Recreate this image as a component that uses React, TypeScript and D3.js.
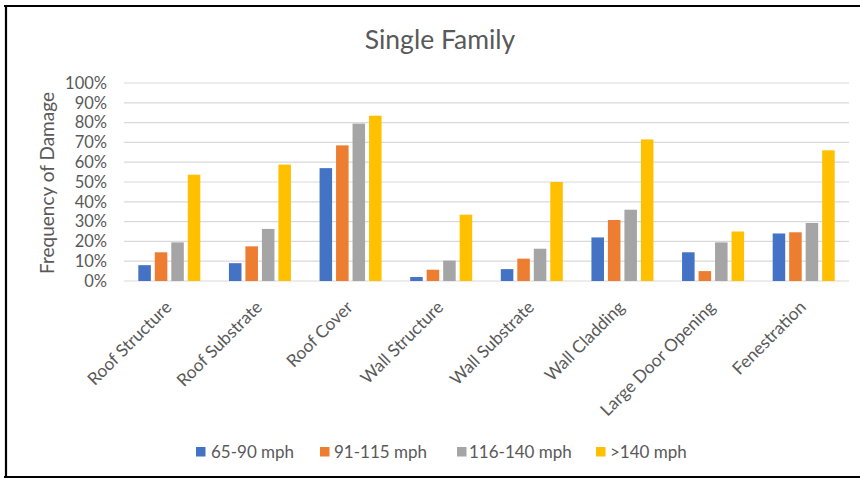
import React from "react";
import * as d3 from "d3";

const categories = [
  "Roof Structure",
  "Roof Substrate",
  "Roof Cover",
  "Wall Structure",
  "Wall Substrate",
  "Wall Cladding",
  "Large Door Opening",
  "Fenestration",
];
const seriesNames = ["65-90 mph", "91-115 mph", "116-140 mph", ">140 mph"];
const seriesColors = ["#4472C4", "#ED7D31", "#A5A5A5", "#FFC000"];
const s65_90 = [0.08, 0.09, 0.57, 0.02, 0.06, 0.22, 0.145, 0.24];
const s91_115 = [0.145, 0.175, 0.685, 0.057, 0.113, 0.308, 0.05, 0.246];
const s116_140 = [0.195, 0.263, 0.795, 0.103, 0.163, 0.36, 0.195, 0.293];
const sOver140 = [0.537, 0.588, 0.835, 0.335, 0.5, 0.715, 0.25, 0.66];
const yTicks = [0, 0.1, 0.2, 0.3, 0.4, 0.5, 0.6, 0.7, 0.8, 0.9, 1.0];

const seriesValues = [s65_90, s91_115, s116_140, sOver140];

const W = 860;
const H = 478;
const FONT = "Lato, 'Open Sans', sans-serif";
const TXT = "#595959";

export default function App() {
  const plotLeft = 124;
  const plotRight = 849;
  const y = d3.scaleLinear().domain([0, 1]).range([281, 83]);
  const x0 = d3.scaleBand<string>().domain(categories).range([plotLeft, plotRight]).padding(0);
  const cw = x0.bandwidth();
  const groupW = 62;
  const x1 = d3
    .scaleBand<string>()
    .domain(seriesNames)
    .range([(cw - groupW) / 2, (cw + groupW) / 2])
    .paddingInner(0.24)
    .paddingOuter(0);
  const pct = d3.format(".0%");

  const legendSquareX = [196, 320, 457, 596];
  const legendTextX = [211, 334, 469, 610];

  return (
    <svg
      width={W}
      height={H}
      style={{ position: "absolute", left: 0, top: 0, background: "#fff" }}
      fontFamily={FONT}
    >
      <rect x={0} y={0} width={W} height={H} fill="#fff" />
      {/* border */}
      <line x1={4} x2={W} y1={6} y2={6} stroke="#000" strokeWidth={2.2} />
      <line x1={6} x2={6} y1={5} y2={H} stroke="#000" strokeWidth={2.2} />
      <line x1={4} x2={W} y1={477} y2={477} stroke="#000" strokeWidth={2.2} />

      <text x={440} y={49} textAnchor="middle" fontSize={26.5} fill={TXT}>
        Single Family
      </text>

      {yTicks.map((t) => (
        <g key={t}>
          <line x1={plotLeft} x2={plotRight} y1={y(t)} y2={y(t)} stroke="#D9D9D9" strokeWidth={1.2} />
          <text x={107} y={y(t)} dy="0.35em" textAnchor="end" fontSize={16.5} fill={TXT}>
            {pct(t)}
          </text>
        </g>
      ))}

      <text
        transform={`translate(47,183) rotate(-90)`}
        textAnchor="middle"
        dy="0.35em"
        fontSize={19}
        fill={TXT}
      >
        Frequency of Damage
      </text>

      {categories.map((c, ci) => (
        <g key={c} transform={`translate(${x0(c)},0)`}>
          {seriesNames.map((s, si) => {
            const v = seriesValues[si][ci];
            return (
              <rect
                key={s}
                x={x1(s)}
                y={y(v)}
                width={x1.bandwidth()}
                height={y(0) - y(v)}
                fill={seriesColors[si]}
              />
            );
          })}
        </g>
      ))}

      {categories.map((c) => (
        <text
          key={c}
          transform={`translate(${(x0(c) as number) + cw / 2 - 1},${304}) rotate(-45)`}
          textAnchor="end"
          dy="0.35em"
          fontSize={17.3}
          fill={TXT}
        >
          {c}
        </text>
      ))}

      {seriesNames.map((s, i) => (
        <g key={s}>
          <rect x={legendSquareX[i]} y={447} width={9.5} height={9.5} fill={seriesColors[i]} />
          <text x={legendTextX[i]} y={452} dy="0.35em" fontSize={17} fill={TXT}>
            {s}
          </text>
        </g>
      ))}
    </svg>
  );
}
